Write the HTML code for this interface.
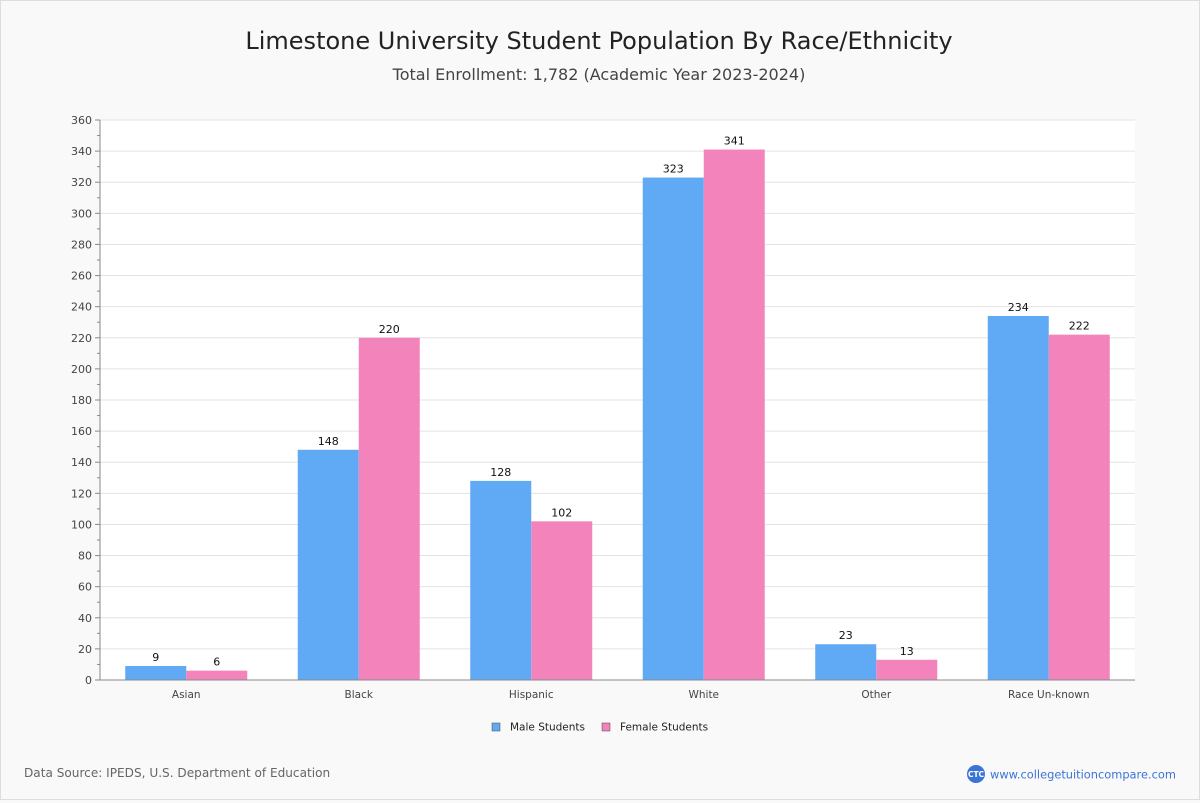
<!DOCTYPE html>
<html><head><meta charset="utf-8"><style>
body{margin:0;background:#f9f9f9;}
#wrap{position:relative;width:1198px;height:798px;border:1px solid #ddd;background:#f9f9f9;font-family:"DejaVu Sans","Liberation Sans",sans-serif;}
svg text{font-family:"DejaVu Sans","Liberation Sans",sans-serif;}
</style></head><body>
<div id="wrap">
<svg id="chart" width="1198" height="798">
<text x="598" y="48" text-anchor="middle" font-size="24" fill="#222">Limestone University Student Population By Race/Ethnicity</text>
<text x="598" y="79" text-anchor="middle" font-size="16" fill="#444">Total Enrollment: 1,782 (Academic Year 2023-2024)</text>
<rect x="99" y="119" width="1035" height="560" fill="#fff"/>
<g id="grid"></g><g id="bars"></g><g id="axes"></g>
<g>
<rect x="491" y="722" width="8" height="8" fill="#60a9f4" stroke="#444" stroke-width="0.5"/>
<text x="509" y="729.5" font-size="10.5" fill="#222">Male Students</text>
<rect x="601" y="722" width="8" height="8" fill="#f283bb" stroke="#444" stroke-width="0.5"/>
<text x="619" y="729.5" font-size="10.5" fill="#222">Female Students</text>
</g>
<text x="23" y="776" font-size="12.1" fill="#666">Data Source: IPEDS, U.S. Department of Education</text>
<circle cx="975" cy="773" r="9" fill="#3b74d6"/>
<text x="975" y="776" text-anchor="middle" font-size="7.5" fill="#fff" font-weight="bold">CTC</text>
<text x="989" y="777.5" font-size="11.4" fill="#3b74d6">www.collegetuitioncompare.com</text>
</svg></div>
<script>
const categories=["Asian","Black","Hispanic","White","Other","Race Un-known"];
const maleValues=[9,148,128,323,23,234];
const femaleValues=[6,220,102,341,13,222];
const yTicks=[0,20,40,60,80,100,120,140,160,180,200,220,240,260,280,300,320,340,360];
const NS="http://www.w3.org/2000/svg";
const X0=99,X1=1134,Y0=679,Y1=119,YMAX=360;
const y=v=>Y0-(v/YMAX)*(Y0-Y1);
const band=(X1-X0)/categories.length;
const bw=61;
function mk(tag,attrs,parent,txt){const e=document.createElementNS(NS,tag);for(const k in attrs)e.setAttribute(k,attrs[k]);if(txt!==undefined)e.textContent=txt;document.getElementById(parent).appendChild(e);return e;}
yTicks.forEach(t=>{
 if(t>0){const g=mk('line',{x1:X0,x2:X1,y1:y(t),y2:y(t),stroke:'#e3e3e3'},'grid');
 
 }
 const tk=mk('line',{x1:X0-5,x2:X0,y1:y(t),y2:y(t),stroke:'#888'},'axes');
 
 
 if(t<YMAX){const mt=mk('line',{x1:X0-3,x2:X0,y1:y(t+10),y2:y(t+10),stroke:'#888'},'axes');
 
 }
 const l=mk('text',{x:X0-8,y:y(t)+4,'text-anchor':'end','font-size':11,fill:'#444'},'axes',t);
 
 
});
categories.forEach((c,i)=>{
 const cx=X0+band*(i+0.5);
 [[maleValues[i],cx-bw,'#60a9f4','male'],[femaleValues[i],cx,'#f283bb','female']].forEach(([v,x,col,s])=>{
  const r=mk('rect',{x:x,y:y(v),width:bw,height:Y0-y(v),fill:col},'bars');
  
  
  const t=mk('text',{x:x+bw/2,y:y(v)-5,'text-anchor':'middle','font-size':11,fill:'#111'},'bars',v);
  
  
 });
 const xl=mk('text',{x:cx,y:Y0+18,'text-anchor':'middle','font-size':10.5,fill:'#444'},'axes',c);
 
 
});
const ax=mk('line',{x1:X0,x2:X0,y1:Y1,y2:Y0,stroke:'#888'},'axes');


const bx=mk('line',{x1:X0,x2:X1,y1:Y0,y2:Y0,stroke:'#888'},'axes');


</script>
</body></html>
